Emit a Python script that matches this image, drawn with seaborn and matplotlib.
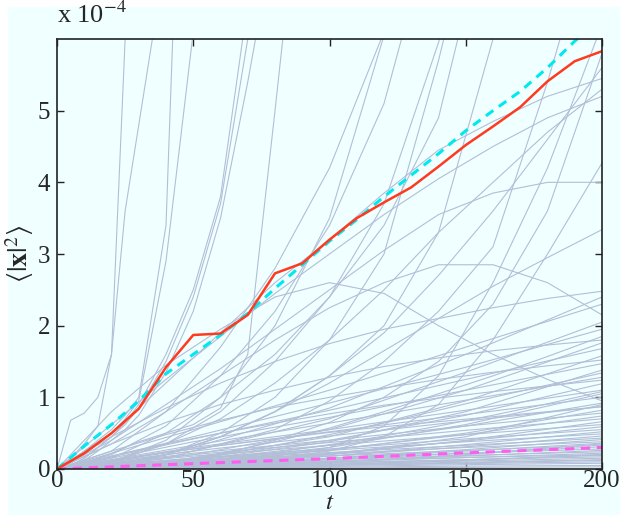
import pandas as pd
import matplotlib
matplotlib.use("Agg")
import matplotlib.pyplot as plt
import seaborn as sns
from matplotlib.patches import Rectangle

# time grids
t_fast = [0, 5, 10, 15, 20, 25, 30, 40, 50, 60, 70, 80, 90]
t_slow = [0, 20, 40, 60, 80, 100, 120, 140, 160, 180, 200]
t_fan = [0, 50, 100, 150, 200]
t_mean = list(range(0, 201, 10))

# single trajectories, values in units of 1e-4
fast_runs = [
    [0, 0.68, 0.78, 1.0, 1.6, 6.0, 14, 30, 50, 70, 90, 110, 130],
    [0, 0.15, 0.35, 0.6, 1.6, 3.6, 4.8, 7.2, 12, 20, 30, 40, 50],
    [0, 0.1, 0.25, 0.4, 0.55, 0.75, 1.0, 3.4, 14, 30, 50, 70, 90],
    [0, 0.08, 0.2, 0.35, 0.5, 0.7, 0.95, 2.9, 6.1, 10, 15, 20, 25],
    [0, 0.05, 0.15, 0.3, 0.45, 0.65, 0.9, 1.6, 2.5, 3.8, 6.5, 9, 13],
    [0, 0.05, 0.15, 0.3, 0.45, 0.62, 0.85, 1.5, 2.4, 3.7, 6.0, 9, 13],
    [0, 0.04, 0.12, 0.25, 0.4, 0.55, 0.75, 1.35, 2.2, 3.5, 5.4, 7.5, 12],
    [0, 0.03, 0.08, 0.15, 0.22, 0.3, 0.38, 0.5, 0.62, 0.85, 1.6, 5.0, 8.5],
]

slow_runs = [
    [0, 0.25, 0.8, 1.7, 2.8, 4.2, 6.1, 8, 10, 12, 14],
    [0, 0.1, 0.4, 1.0, 2.0, 3.5, 6.05, 8.5, 11, 13, 15],
    [0, 0.2, 0.6, 1.3, 2.2, 3.4, 5.1, 7.9, 10, 12, 14],
    [0, 0.1, 0.35, 0.8, 1.5, 2.4, 3.7, 5.95, 8.5, 11, 13],
    [0, 0.05, 0.2, 0.5, 1.0, 1.8, 3.0, 5.7, 8.8, 12, 15],
    [0, 0.15, 0.5, 1.0, 1.6, 2.4, 3.4, 4.9, 8.0, 10, 12],
    [0, 0.05, 0.2, 0.45, 0.8, 1.3, 2.0, 3.3, 6.0, 9, 12],
    [0, 0.05, 0.15, 0.35, 0.55, 0.95, 1.5, 2.2, 3.1, 5.4, 8.0],
    [0, 0.02, 0.08, 0.2, 0.4, 0.65, 1.0, 1.5, 2.3, 3.6, 5.8],
    [0, 0.05, 0.2, 0.45, 0.8, 1.3, 1.9, 2.7, 3.6, 4.6, 5.6],
    [0, 0.5, 1.2, 1.9, 2.6, 3.2, 3.85, 4.45, 4.85, 5.2, 5.45],
    [0, 0.1, 0.35, 0.7, 1.2, 1.8, 2.5, 3.3, 4.0, 4.7, 5.3],
    [0, 0.62, 1.25, 1.85, 2.45, 3.0, 3.55, 4.05, 4.5, 4.9, 5.2],
    [0, 0.02, 0.05, 0.1, 0.18, 0.3, 0.6, 1.3, 2.6, 4.2, 6.2],
    [0, 0.01, 0.04, 0.08, 0.15, 0.25, 0.45, 0.9, 1.8, 3.0, 4.27],
    [0, 0.8, 1.45, 1.95, 2.4, 2.6, 2.45, 2.0, 1.6, 1.25, 0.95],
    [0, 0.35, 0.8, 1.3, 1.8, 2.25, 2.6, 2.85, 2.85, 2.6, 2.15],
    [0, 0.4, 0.9, 1.4, 1.95, 2.5, 3.05, 3.55, 3.85, 4.0, 4.0],
    [0, 0.05, 0.2, 0.45, 0.8, 1.2, 1.65, 2.1, 2.55, 2.95, 3.34],
    [0, 0.45, 0.85, 1.2, 1.5, 1.75, 1.95, 2.1, 2.25, 2.38, 2.48],
    [0, 0.03, 0.1, 0.22, 0.38, 0.57, 0.8, 1.05, 1.3, 1.57, 1.85],
    [0, 0.35, 0.65, 0.9, 1.1, 1.28, 1.43, 1.55, 1.65, 1.73, 1.80],
    [0, 0.25, 0.48, 0.68, 0.86, 1.0, 1.13, 1.25, 1.35, 1.44, 1.52],
    [0, 0.03, 0.1, 0.2, 0.33, 0.48, 0.64, 0.82, 1.0, 1.17, 1.34],
    [0, 0.18, 0.35, 0.5, 0.64, 0.77, 0.89, 0.99, 1.08, 1.16, 1.24],
    [0, 0.02, 0.07, 0.14, 0.23, 0.34, 0.46, 0.6, 0.75, 0.91, 1.08],
    [0, 0.12, 0.23, 0.33, 0.42, 0.51, 0.59, 0.66, 0.73, 0.8, 0.87],
]

fan_runs = [
    [0, 0.008, 0.015, 0.022, 0.03],
    [0, 0.01, 0.025, 0.04, 0.05],
    [0, 0.015, 0.035, 0.06, 0.08],
    [0, 0.02, 0.05, 0.075, 0.1],
    [0, 0.02, 0.05, 0.085, 0.12],
    [0, 0.03, 0.06, 0.095, 0.13],
    [0, 0.03, 0.07, 0.11, 0.15],
    [0, 0.05, 0.09, 0.13, 0.17],
    [0, 0.03, 0.08, 0.13, 0.19],
    [0, 0.06, 0.11, 0.16, 0.2],
    [0, 0.04, 0.1, 0.16, 0.22],
    [0, 0.07, 0.13, 0.19, 0.24],
    [0, 0.04, 0.11, 0.18, 0.26],
    [0, 0.08, 0.15, 0.22, 0.28],
    [0, 0.05, 0.13, 0.22, 0.31],
    [0, 0.1, 0.18, 0.26, 0.33],
    [0, 0.06, 0.15, 0.25, 0.36],
    [0, 0.11, 0.21, 0.3, 0.38],
    [0, 0.05, 0.15, 0.27, 0.41],
    [0, 0.12, 0.23, 0.33, 0.43],
    [0, 0.07, 0.18, 0.31, 0.46],
    [0, 0.14, 0.26, 0.38, 0.49],
    [0, 0.06, 0.18, 0.34, 0.52],
    [0, 0.15, 0.28, 0.42, 0.55],
    [0, 0.08, 0.22, 0.39, 0.59],
    [0, 0.18, 0.33, 0.48, 0.62],
    [0, 0.07, 0.2, 0.4, 0.66],
    [0, 0.2, 0.37, 0.54, 0.7],
    [0, 0.1, 0.27, 0.48, 0.74],
    [0, 0.22, 0.4, 0.6, 0.78],
    [0, 0.09, 0.26, 0.5, 0.82],
    [0, 0.25, 0.46, 0.67, 0.87],
    [0, 0.12, 0.33, 0.6, 0.92],
    [0, 0.28, 0.52, 0.76, 1.0],
    [0, 0.1, 0.3, 0.62, 1.05],
    [0, 0.3, 0.55, 0.82, 1.1],
    [0, 0.14, 0.4, 0.75, 1.19],
    [0, 0.33, 0.64, 0.96, 1.28],
    [0, 0.12, 0.38, 0.8, 1.38],
    [0, 0.38, 0.72, 1.1, 1.47],
    [0, 0.15, 0.45, 0.95, 1.58],
    [0, 0.42, 0.82, 1.25, 1.68],
    [0, 0.2, 0.55, 1.1, 1.76],
    [0, 0.45, 0.92, 1.42, 1.95],
    [0, 0.25, 0.7, 1.35, 2.05],
    [0, 0.55, 1.1, 1.7, 2.3],
    [0, 0.3, 0.85, 1.6, 2.4],
    [0, 0.02, 0.06, 0.12, 0.2],
    [0, 0.04, 0.09, 0.2, 0.35],
    [0, 0.09, 0.2, 0.45, 0.9],
]

# ensemble mean and the two reference lines
mean_msd = [0, 0.22, 0.5, 0.84, 1.42, 1.87, 1.89, 2.15, 2.73, 2.87, 3.2,
            3.5, 3.72, 3.93, 4.22, 4.52, 4.78, 5.05, 5.41, 5.69, 5.83]
fit_upper = [0, 0.32, 0.62, 0.95, 1.33, 1.6, 1.87, 2.17, 2.52, 2.85, 3.18,
             3.48, 3.8, 4.1, 4.4, 4.72, 5.0, 5.27, 5.6, 5.97, 6.3]
fit_lower = [0, 0.075, 0.145, 0.225, 0.30]

# long table for seaborn
rows = []
for name, tt, runs in [("f", t_fast, fast_runs), ("s", t_slow, slow_runs), ("b", t_fan, fan_runs)]:
    for i, r in enumerate(runs):
        for t, v in zip(tt, r):
            rows.append((f"{name}{i}", t, v))
traj = pd.DataFrame(rows, columns=["run", "t", "msd"])

sns.set_style("ticks")
plt.rcParams["font.family"] = ["Liberation Serif", "DejaVu Serif"]
plt.rcParams["mathtext.fontset"] = "stix"

bg = "#F0FFFF"
fig = plt.figure(figsize=(6.23, 5.18), dpi=100)
fig.patch.set_facecolor("white")
fig.add_artist(Rectangle((8 / 623, 3 / 518), 612 / 623, 508 / 518, transform=fig.transFigure,
                         facecolor=bg, edgecolor="none", zorder=-10))
ax = fig.add_axes([0.0915, 0.0946, 0.8748, 0.8301])
ax.set_facecolor(bg)

sns.lineplot(data=traj, x="t", y="msd", units="run", estimator=None, color="#B3BED7",
             lw=0.8, ax=ax, legend=False)
sns.lineplot(x=t_mean, y=fit_upper, color="#00E8F0", lw=2.2, linestyle=(0, (3, 2.2)), ax=ax)
sns.lineplot(x=t_fan, y=fit_lower, color="#FF5CF0", lw=2.2, linestyle=(0, (3, 2.2)), ax=ax)
sns.lineplot(x=t_mean, y=mean_msd, color="#FF3A1E", lw=1.8, ax=ax)

ax.set_xlim(0, 200)
ax.set_ylim(0, 6)
ax.set_xticks([0, 50, 100, 150, 200])
ax.set_yticks([0, 1, 2, 3, 4, 5])
ax.tick_params(direction="in", top=True, right=True, length=5, width=1, labelsize=18,
               color="#222222")
ax.tick_params(axis="x", pad=1)
ax.tick_params(axis="y", pad=5)
for s in ax.spines.values():
    s.set_linewidth(1.2)
    s.set_color("#222222")

ax.set_xlabel("$t$", fontsize=18, labelpad=-0.5)
ax.set_ylabel(r"$\langle|\mathbf{x}|^2\rangle$", fontsize=20, labelpad=1)
ax.text(0, 1.025, r"x 10$^{-4}$", transform=ax.transAxes, ha="left", va="bottom", fontsize=19)

plt.savefig("out.png", dpi=100)
